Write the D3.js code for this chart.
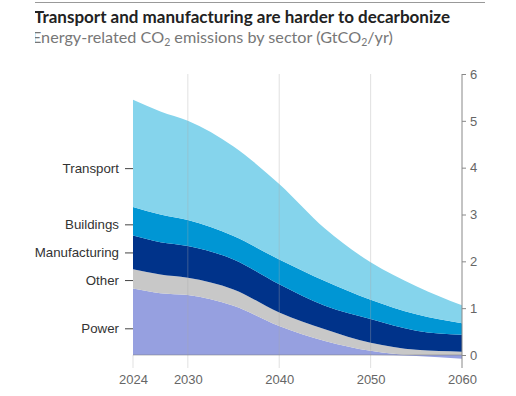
<!DOCTYPE html>
<html>
<head>
<meta charset="utf-8">
<script src="https://cdn.jsdelivr.net/npm/d3@7"></script>
<style>
  body { margin: 0; background: #fff; }
  svg { display: block; font-family: "Lato", "Noto Sans", sans-serif; }
</style>
</head>
<body>
<div id="chart"></div>
<script>
// data, GtCO2/yr per sector
var years = [2024, 2027, 2030, 2035, 2040, 2045, 2050, 2055, 2060];
var power = [1.42, 1.32, 1.28, 1.05, 0.62, 0.30, 0.09, -0.02, -0.08];
var other = [0.41, 0.40, 0.37, 0.35, 0.29, 0.25, 0.17, 0.11, 0.07];
var manufacturing = [0.72, 0.69, 0.68, 0.64, 0.60, 0.50, 0.51, 0.41, 0.36];
var buildings = [0.61, 0.59, 0.55, 0.50, 0.53, 0.53, 0.41, 0.35, 0.25];
var transport = [2.29, 2.20, 2.12, 1.91, 1.61, 1.12, 0.80, 0.60, 0.38];

var sectors = ["Power", "Other", "Manufacturing", "Buildings", "Transport"];
var colors = ["#96a0e0", "#c8c8c8", "#00338a", "#0096d4", "#85d4ec"];
// where the sector names sit on the left
var labelValues = [0.57, 1.6, 2.19, 2.79, 3.99];

var xTicks = [2024, 2030, 2040, 2050, 2060];
var yTicks = [0, 1, 2, 3, 4, 5, 6];

var m = {left: 133, right: 54, top: 74, bottom: 40};
var W = 516, H = 396;
var w = W - m.left - m.right;
var h = H - m.top - m.bottom;

var svg = d3.select("#chart").append("svg")
    .attr("width", W)
    .attr("height", H);

// title block, cropped on the left like the source
svg.append("clipPath").attr("id", "clipTitle")
  .append("rect").attr("x", 35).attr("y", 0).attr("width", 480).attr("height", 60);

var head = svg.append("g").attr("clip-path", "url(#clipTitle)");
head.append("line")
    .attr("x1", 0).attr("x2", 485).attr("y1", 2.5).attr("y2", 2.5)
    .attr("stroke", "#999").attr("stroke-width", 1);
head.append("text")
    .attr("x", 34).attr("y", 23)
    .style("font-size", "17px").style("font-weight", "bold").style("fill", "#222")
    .text("Transport and manufacturing are harder to decarbonize");
var sub = head.append("text")
    .attr("x", 32).attr("y", 43)
    .style("font-size", "16.2px").style("fill", "#777");
sub.append("tspan").text("Energy-related CO");
sub.append("tspan").attr("dy", 3).style("font-size", "10.5px").text("2");
sub.append("tspan").attr("dy", -3).text(" emissions by sector (GtCO");
sub.append("tspan").attr("dy", 3).style("font-size", "10.5px").text("2");
sub.append("tspan").attr("dy", -3).text("/yr)");

var g = svg.append("g")
    .attr("transform", "translate(" + m.left + "," + m.top + ")");

var x = d3.scaleLinear().domain([2024, 2060]).range([0, w]);
var y = d3.scaleLinear().domain([0, 6]).range([h - 1, 0]);

var series = [power, other, manufacturing, buildings, transport];
var table = years.map(function(yr, i) {
    var row = {year: yr};
    sectors.forEach(function(s, j) { row[s] = series[j][i]; });
    return row;
});

var stack = d3.stack().keys(sectors).offset(d3.stackOffsetDiverging);
var layers = stack(table);

var area = d3.area()
    .curve(d3.curveMonotoneX)
    .x(function(d) { return x(d.data.year); })
    .y0(function(d) { return y(d[0]); })
    .y1(function(d) { return y(d[1]); });

g.selectAll(".layer")
    .data(layers)
    .enter().append("path")
    .attr("class", "layer")
    .attr("d", area)
    .attr("fill", function(d, i) { return colors[i]; });

// vertical grid, drawn over the areas
g.selectAll(".grid")
    .data(xTicks.slice(0, 4))
    .enter().append("line")
    .attr("class", "grid")
    .attr("x1", function(d) { return x(d); })
    .attr("x2", function(d) { return x(d); })
    .attr("y1", function(d) { return d == 2024 ? y(0) : y(6); })
    .attr("y2", h + 12)
    .attr("stroke", "#aaa").attr("stroke-opacity", 0.35);

// zero line
g.append("line")
    .attr("x1", 0).attr("x2", w)
    .attr("y1", y(0)).attr("y2", y(0))
    .attr("stroke", "#777").attr("stroke-opacity", 0.5);

// right axis
var yAxis = g.append("g")
    .attr("transform", "translate(" + w + ",0)")
    .call(d3.axisRight(y).tickValues(yTicks).tickFormat(d3.format("d"))
      .tickSize(4).tickSizeOuter(0).tickPadding(4));
yAxis.select(".domain").attr("stroke", "#888").attr("d", "M0," + y(6) + "V" + (h + 12));
yAxis.selectAll(".tick line").attr("stroke", "#888");
yAxis.selectAll("text").style("font-size", "13px").style("fill", "#666");

// bottom axis labels
var xAxis = g.append("g")
    .attr("transform", "translate(0," + h + ")")
    .call(d3.axisBottom(x).tickValues(xTicks).tickFormat(d3.format("d")).tickSize(0).tickPadding(19));
xAxis.select(".domain").remove();
xAxis.selectAll("text").style("font-size", "13px").style("fill", "#666");

// sector names on the left
var lAxis = g.append("g")
    .call(d3.axisLeft(y).tickValues(labelValues)
      .tickFormat(function(d, i) { return sectors[i]; })
      .tickSize(8).tickPadding(6));
lAxis.select(".domain").remove();
lAxis.selectAll(".tick line").attr("stroke", "#444");
lAxis.selectAll("text").style("font-size", "13.3px").style("fill", "#333");
</script>
</body>
</html>
